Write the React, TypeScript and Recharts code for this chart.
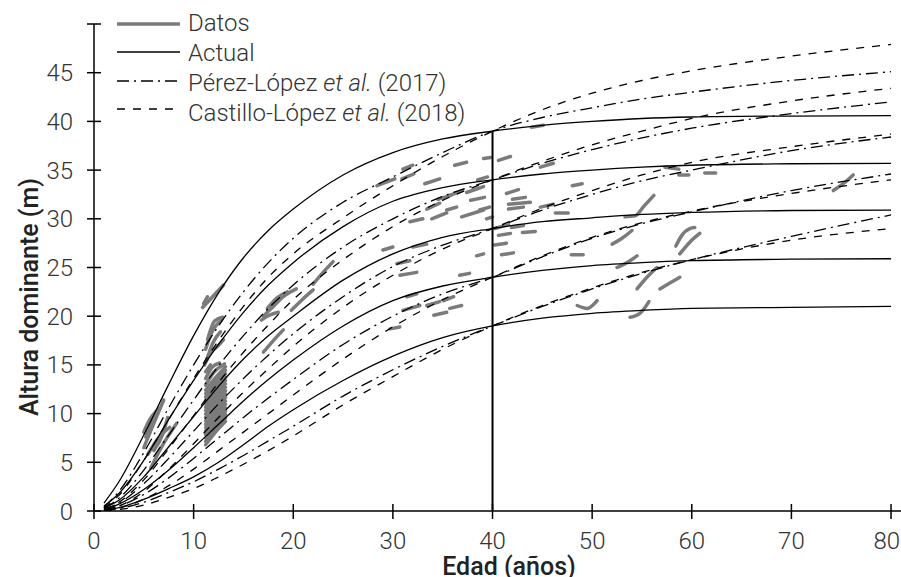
import { LineChart, Line, XAxis, YAxis, ReferenceLine, Label } from 'recharts';

// edades (años) donde se leyeron las curvas
const ages = [1, 2.5, 5, 7.5, 10, 12.5, 15, 17.5, 20, 25, 30, 35, 40, 45, 50, 55, 60, 70, 80];

// Actual (IS 39, 34, 29, 24, 19 a los 40 años)
const actual39 = [0.8, 3.0, 7.8, 13.0, 18.0, 22.4, 26.0, 28.8, 31.0, 34.5, 36.8, 38.2, 39.0, 39.6, 40.0, 40.3, 40.45, 40.55, 40.6];
const actual34 = [0.5, 1.8, 5.2, 9.4, 13.4, 17.1, 20.4, 23.2, 25.5, 29.2, 31.8, 33.2, 34.0, 34.6, 35.0, 35.3, 35.5, 35.65, 35.7];
const actual29 = [0.3, 1.1, 3.5, 6.6, 9.7, 12.8, 15.6, 18.0, 20.0, 23.7, 26.4, 28.1, 29.0, 29.7, 30.1, 30.45, 30.65, 30.85, 30.9];
const actual24 = [0.15, 0.7, 2.2, 4.2, 6.5, 8.9, 11.3, 13.5, 15.5, 19.0, 21.6, 23.1, 24.0, 24.7, 25.2, 25.5, 25.7, 25.85, 25.9];
const actual19 = [0.05, 0.35, 1.2, 2.3, 3.5, 5.0, 6.8, 8.7, 10.4, 13.4, 15.9, 17.8, 19.0, 19.8, 20.3, 20.6, 20.8, 20.9, 21.0];

// Pérez-López et al. (2017)
const perez39 = [0.4, 2.0, 6.0, 10.6, 15.0, 19.0, 22.5, 25.5, 28.0, 31.7, 34.3, 36.8, 39.0, 40.4, 41.4, 42.3, 43.0, 44.2, 45.1];
const perez34 = [0.3, 1.3, 4.2, 7.8, 11.4, 14.9, 18.0, 20.8, 23.2, 27.1, 30.0, 32.3, 34.0, 35.7, 37.1, 38.3, 39.3, 40.8, 42.0];
const perez29 = [0.2, 0.8, 2.8, 5.4, 8.2, 11.0, 13.6, 16.0, 18.2, 22.0, 25.1, 27.3, 29.0, 30.9, 32.5, 33.9, 35.0, 37.0, 38.4];
const perez24 = [0.1, 0.5, 1.7, 3.4, 5.4, 7.5, 9.6, 11.6, 13.5, 17.1, 20.0, 22.3, 24.0, 26.1, 28.0, 29.5, 30.7, 32.9, 34.6];
const perez19 = [0.03, 0.25, 0.9, 1.9, 3.0, 4.3, 5.7, 7.2, 8.7, 11.8, 14.5, 16.9, 19.0, 21.0, 22.8, 24.4, 25.8, 28.2, 30.4];

// Castillo-López et al. (2018)
const castillo39 = [0.3, 1.6, 5.2, 9.4, 13.6, 17.5, 21.0, 24.0, 26.4, 30.1, 33.4, 36.4, 39.0, 41.2, 42.9, 44.2, 45.2, 46.7, 47.9];
const castillo34 = [0.15, 0.9, 3.2, 6.4, 9.8, 13.2, 16.3, 19.1, 21.7, 25.8, 29.2, 31.9, 34.0, 35.9, 37.6, 39.0, 40.3, 42.1, 43.4];
const castillo29 = [0.1, 0.5, 2.0, 4.3, 6.9, 9.6, 12.2, 14.6, 16.9, 20.9, 24.2, 26.9, 29.0, 31.1, 32.9, 34.5, 35.8, 37.4, 38.7];
const castillo24 = [0.05, 0.3, 1.2, 2.6, 4.3, 6.2, 8.1, 10.0, 11.9, 15.6, 18.9, 21.7, 24.0, 26.2, 28.1, 29.6, 30.8, 32.6, 34.0];
const castillo19 = [0.02, 0.15, 0.6, 1.4, 2.3, 3.5, 4.8, 6.2, 7.7, 10.9, 13.8, 16.6, 19.0, 21.1, 22.9, 24.5, 25.8, 27.8, 29.0];

// Datos: tramos [edad, altura] de cada parcela
const datosSegments: number[][][] = [
  // 5-8 años
  [[5.0, 6.5], [6.0, 9.0], [7.0, 11.4]],
  [[5.2, 7.6], [6.0, 9.8], [6.6, 10.6]],
  [[5.4, 5.8], [6.4, 7.4], [7.6, 8.6]],
  [[5.7, 4.4], [6.8, 6.6], [8.3, 9.0]],
  [[5.0, 8.1], [5.6, 9.4], [6.2, 10.2]],
  [[6.0, 6.2], [6.9, 7.9], [7.4, 9.6]],
  // 11-13 años
  [[11.2, 6.8], [12.2, 8.1], [13.2, 9.2]],
  [[11.2, 7.15], [12.2, 8.45], [13.2, 9.55]],
  [[11.2, 7.5], [12.2, 8.8], [13.2, 9.9]],
  [[11.2, 7.85], [12.2, 9.15], [13.2, 10.25]],
  [[11.2, 8.2], [12.2, 9.5], [13.2, 10.6]],
  [[11.2, 8.55], [12.2, 9.85], [13.2, 10.95]],
  [[11.2, 8.9], [12.2, 10.2], [13.2, 11.3]],
  [[11.2, 9.25], [12.2, 10.55], [13.2, 11.65]],
  [[11.2, 9.6], [12.2, 10.9], [13.2, 12.0]],
  [[11.2, 9.95], [12.2, 11.25], [13.2, 12.35]],
  [[11.2, 10.3], [12.2, 11.6], [13.2, 12.7]],
  [[11.2, 10.65], [12.2, 11.95], [13.2, 13.05]],
  [[11.2, 11.0], [12.2, 12.3], [13.2, 13.4]],
  [[11.2, 11.35], [12.2, 12.65], [13.2, 13.75]],
  [[11.2, 11.7], [12.2, 13.0], [13.2, 14.1]],
  [[11.2, 12.05], [12.2, 13.35], [13.2, 14.45]],
  [[11.2, 12.4], [12.2, 13.7], [13.2, 14.8]],
  [[11.2, 12.9], [12.0, 14.2], [13.1, 15.1]],
  [[11.2, 13.6], [11.9, 14.8], [12.6, 15.2]],
  [[11.2, 14.3], [11.7, 15.0]],
  [[11.3, 15.4], [11.9, 17.2], [12.7, 18.4]],
  [[11.2, 16.6], [11.8, 18.3], [12.8, 19.6]],
  [[11.4, 17.6], [12.1, 19.5], [12.9, 19.9]],
  [[11.1, 15.0], [11.6, 16.2], [12.3, 16.8], [13.0, 17.6]],
  [[10.9, 20.9], [12.0, 22.1], [13.0, 23.2]],
  [[11.0, 21.3], [11.4, 22.0]],
  // 17-24 años
  [[16.8, 19.6], [17.6, 20.1], [18.5, 20.4]],
  [[17.0, 20.0], [18.0, 21.0], [19.0, 22.0], [20.3, 22.8]],
  [[17.4, 20.8], [18.4, 21.9], [19.4, 22.5]],
  [[17.0, 16.3], [18.0, 17.5], [19.0, 18.6]],
  [[19.8, 20.6], [21.0, 21.8], [22.0, 22.7]],
  [[22.0, 23.3], [23.0, 24.5], [24.0, 25.6]],
  // 28-49 años
  [[28.4, 33.4], [30.2, 34.1]],
  [[30.9, 34.1], [32.1, 34.6]],
  [[31.0, 35.1], [32.0, 35.5]],
  [[36.2, 35.5], [37.4, 35.8]],
  [[39.1, 36.2], [39.8, 36.3]],
  [[35.7, 32.4], [37.0, 32.9]],
  [[37.4, 32.7], [39.1, 33.3]],
  [[37.8, 31.9], [39.2, 32.2]],
  [[33.4, 31.0], [34.7, 31.6]],
  [[33.9, 30.0], [35.4, 30.6]],
  [[35.4, 30.9], [36.4, 31.2]],
  [[36.9, 30.2], [39.1, 30.9]],
  [[31.7, 29.7], [33.0, 30.0]],
  [[38.7, 30.9], [39.7, 31.2]],
  [[39.4, 30.0], [40.0, 30.2]],
  [[33.2, 33.6], [34.7, 34.1]],
  [[34.5, 32.0], [35.8, 32.4]],
  [[38.5, 34.0], [39.5, 34.3]],
  [[29.0, 26.8], [30.0, 27.1]],
  [[32.0, 27.1], [33.4, 27.4]],
  [[38.4, 26.2], [39.1, 26.4]],
  [[30.4, 25.4], [31.7, 25.7]],
  [[30.7, 24.2], [32.4, 24.5]],
  [[36.7, 24.2], [37.7, 24.4]],
  [[31.4, 22.0], [32.4, 22.3]],
  [[31.0, 20.6], [32.7, 21.1]],
  [[33.4, 21.1], [34.7, 21.5]],
  [[35.1, 21.6], [36.1, 22.0]],
  [[34.1, 20.1], [35.4, 20.4]],
  [[35.7, 20.8], [36.9, 21.1]],
  [[29.7, 18.7], [30.7, 18.9]],
  [[43.9, 39.4], [45.1, 39.6]],
  [[40.6, 36.0], [41.8, 36.4]],
  [[41.4, 32.6], [42.6, 33.0]],
  [[44.8, 35.3], [46.1, 35.7]],
  [[48.0, 33.4], [49.0, 33.6]],
  [[42.0, 32.0], [43.3, 32.2]],
  [[41.6, 31.5], [43.8, 31.7]],
  [[41.6, 31.0], [43.1, 31.2]],
  [[44.8, 31.2], [46.1, 31.5]],
  [[46.3, 30.6], [47.6, 30.6]],
  [[40.2, 29.0], [41.6, 29.4]],
  [[41.9, 29.1], [43.1, 29.3]],
  [[40.6, 28.3], [41.8, 28.5]],
  [[43.0, 28.6], [44.3, 28.7]],
  [[40.2, 27.3], [41.4, 27.5]],
  [[40.9, 26.3], [42.1, 26.5]],
  [[47.9, 26.3], [49.1, 26.3]],
  // 48-76 años
  [[48.5, 21.1], [49.5, 20.8], [50.5, 21.6]],
  [[53.8, 19.9], [54.8, 20.3], [55.7, 21.5]],
  [[52.0, 27.4], [53.0, 28.0], [54.0, 28.8]],
  [[52.5, 25.0], [53.5, 25.5], [54.5, 26.2]],
  [[54.5, 22.8], [55.5, 24.0], [56.5, 25.0]],
  [[56.8, 22.8], [57.8, 23.4], [58.8, 24.0]],
  [[58.4, 27.2], [59.0, 28.3], [59.8, 29.0], [60.3, 29.1]],
  [[58.8, 26.4], [59.8, 27.6], [60.8, 28.5]],
  [[53.3, 30.2], [54.3, 30.3], [55.2, 31.3], [56.2, 32.4]],
  [[57.3, 35.3], [58.7, 35.1]],
  [[58.7, 34.5], [59.7, 34.5]],
  [[61.3, 34.7], [62.4, 34.7]],
  [[74.2, 32.9], [75.2, 33.6], [76.2, 34.5]],
];

const xTicks = [0, 10, 20, 30, 40, 50, 60, 70, 80];
const yTicks = [0, 5, 10, 15, 20, 25, 30, 35, 40, 45, 50];

const rows = ages.map((age, i) => ({
  age,
  a39: actual39[i], a34: actual34[i], a29: actual29[i], a24: actual24[i], a19: actual19[i],
  p39: perez39[i], p34: perez34[i], p29: perez29[i], p24: perez24[i], p19: perez19[i],
  c39: castillo39[i], c34: castillo34[i], c29: castillo29[i], c24: castillo24[i], c19: castillo19[i],
}));

const segData = datosSegments.map(seg => seg.map(([age, h]) => ({ age, h })));

const FONT = 'Roboto, "Noto Sans", sans-serif';
const TXT = '#333';
const DATOS = '#7b7b7b';
const DASHDOT = '12 5 2 5';
const DASHED = '8 8';

function YTick(props: any) {
  const { x, y, payload } = props;
  const ax = x + 21;
  return (
    <g>
      <line x1={ax - 7} x2={ax + 7} y1={y} y2={y} stroke="#000" strokeWidth={1.5} />
      {payload.value !== 50 && (
        <text x={x} y={y} dy={8.5} textAnchor="end" fontFamily={FONT} fontWeight={300} fontSize={24} fill={TXT}>
          {payload.value}
        </text>
      )}
    </g>
  );
}

function XTick(props: any) {
  const { x, y, payload } = props;
  const ay = y - 7;
  // the last label is pulled inside the picture, as in the original
  const last = payload.value === 80;
  return (
    <g>
      <line x1={x} x2={x} y1={ay - 7} y2={ay + 8} stroke="#000" strokeWidth={1.5} />
      <text
        x={last ? 900 : x}
        y={ay + 38}
        textAnchor={last ? 'end' : 'middle'}
        fontFamily={FONT}
        fontWeight={300}
        fontSize={24}
        fill={TXT}
      >
        {payload.value}
      </text>
    </g>
  );
}

const legendRows = [
  { label: <>Datos</>, lineY: 24, textY: 22.5, stroke: DATOS, width: 3.5, dash: undefined },
  { label: <>Actual</>, lineY: 52, textY: 52.5, stroke: '#000', width: 1.3, dash: undefined },
  { label: <>Pérez-López <i>et al.</i> (2017)</>, lineY: 81, textY: 83, stroke: '#000', width: 1.3, dash: DASHDOT },
  { label: <>Castillo-López <i>et al.</i> (2018)</>, lineY: 109, textY: 113, stroke: '#000', width: 1.3, dash: DASHED },
];

export default function App() {
  const curve = (key: string, dash?: string) => (
    <Line
      key={key}
      type="monotone"
      dataKey={key}
      stroke="#000"
      strokeWidth={1.3}
      strokeDasharray={dash}
      dot={false}
      activeDot={false}
      isAnimationActive={false}
    />
  );
  return (
    <div style={{ position: 'fixed', left: 0, top: 0, width: 901, height: 577, background: '#fff' }}>
      <LineChart width={901} height={577} data={rows} margin={{ top: 24, right: 0, left: 0, bottom: 0 }}>
        <XAxis
          type="number"
          dataKey="age"
          domain={[0, 81]}
          ticks={xTicks}
          allowDataOverflow
          height={66}
          tickSize={7}
          tickMargin={0}
          tickLine={false}
          axisLine={{ stroke: '#000', strokeWidth: 1.5 }}
          tick={<XTick />}
        >
          <Label
            content={() => (
              <text x={509} y={575} textAnchor="middle" fontFamily={FONT} fontWeight={500} fontSize={25} fill="#222">
                Edad (años)
              </text>
            )}
          />
        </XAxis>
        <YAxis
          type="number"
          domain={[0, 50]}
          ticks={yTicks}
          allowDataOverflow
          width={94}
          tickSize={7}
          tickMargin={14}
          tickLine={false}
          axisLine={{ stroke: '#000', strokeWidth: 1.5 }}
          tick={<YTick />}
        >
          <Label
            content={() => (
              <text x={38} y={297} transform="rotate(-90 38 297)" textAnchor="middle" fontFamily={FONT} fontWeight={500} fontSize={25} fill="#222">
                Altura dominante (m)
              </text>
            )}
          />
        </YAxis>
        {segData.map((seg, i) => (
          <Line
            key={'d' + i}
            data={seg}
            type="monotone"
            dataKey="h"
            stroke={DATOS}
            strokeWidth={3.5}
            strokeLinecap="round"
            dot={false}
            activeDot={false}
            isAnimationActive={false}
          />
        ))}
        {['c39', 'c34', 'c29', 'c24', 'c19'].map(k => curve(k, DASHED))}
        {['p39', 'p34', 'p29', 'p24', 'p19'].map(k => curve(k, DASHDOT))}
        {['a39', 'a34', 'a29', 'a24', 'a19'].map(k => curve(k))}
        <ReferenceLine segment={[{ x: 40, y: 0 }, { x: 40, y: 39 }]} stroke="#000" strokeWidth={2} />
      </LineChart>
      {legendRows.map((r, i) => (
        <div key={i}>
          <svg style={{ position: 'absolute', left: 116, top: r.lineY - 5 }} width={66} height={10}>
            <line x1={1} x2={64} y1={5} y2={5} stroke={r.stroke} strokeWidth={r.width} strokeDasharray={r.dash} />
          </svg>
          <div
            style={{
              position: 'absolute',
              left: 188,
              top: r.textY - 15,
              height: 30,
              lineHeight: '30px',
              fontFamily: FONT,
              fontWeight: 300,
              fontSize: 24,
              color: TXT,
              whiteSpace: 'nowrap',
            }}
          >
            {r.label}
          </div>
        </div>
      ))}
    </div>
  );
}
